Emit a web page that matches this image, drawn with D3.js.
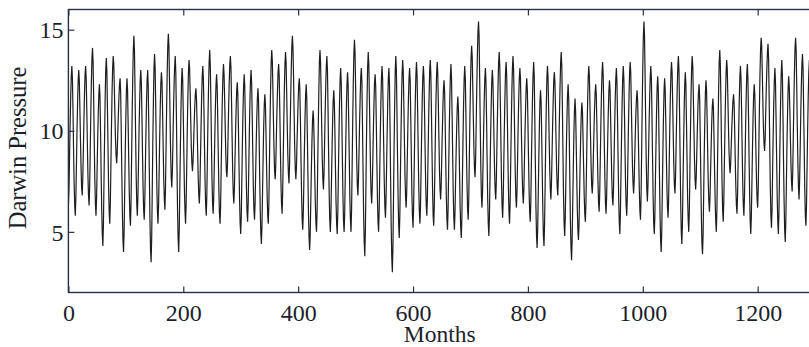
<!DOCTYPE html>
<html>
<head>
<meta charset="utf-8">
<script src="https://cdn.jsdelivr.net/npm/d3@7"></script>
<style>
  html, body { margin: 0; padding: 0; background: #ffffff; }
  svg { display: block; }
  text { font-family: "Liberation Serif", "Times New Roman", serif; fill: #1c1f2b; }
</style>
</head>
<body>
<script>
// Monthly Darwin sea-level pressure (mb - 1000), one row per year
const pressure = [
6.3,7.1,8.7,10.3,11.7,12.7,13.2,12.6,11.0,9.1,7.4,6.3,
5.8,6.7,8.3,10.0,11.4,12.5,13.0,12.5,11.1,9.6,8.2,7.2,
6.8,7.6,9.0,10.5,11.8,12.8,13.2,12.6,11.1,9.4,7.8,6.8,
6.3,7.2,9.0,10.8,12.4,13.6,14.1,13.4,11.6,9.5,7.6,6.4,
5.8,6.6,8.1,9.6,10.9,11.8,12.3,11.7,9.9,7.9,6.1,4.9,
4.3,5.4,7.6,9.7,11.6,13.0,13.6,12.9,11.1,9.1,7.2,6.0,
5.4,6.4,8.3,10.2,11.9,13.1,13.7,13.3,12.1,10.8,9.6,8.8,
8.4,8.9,9.9,10.8,11.7,12.3,12.6,11.9,10.0,7.9,5.9,4.6,
4.0,5.0,7.0,9.0,10.7,12.0,12.6,12.0,10.4,8.6,6.9,5.8,
5.3,6.4,8.6,10.8,12.6,14.0,14.7,14.0,12.0,9.8,7.8,6.4,
5.8,6.7,8.3,10.0,11.4,12.5,13.0,12.4,10.8,8.9,7.2,6.1,
5.6,6.5,8.2,9.9,11.4,12.5,13.0,12.2,10.1,7.7,5.6,4.1,
3.5,4.7,7.1,9.5,11.5,13.1,13.8,13.1,11.3,9.2,7.2,6.0,
5.4,6.3,8.0,9.8,11.3,12.4,12.9,12.4,10.9,9.2,7.6,6.6,
6.1,7.1,9.1,11.1,12.9,14.2,14.8,14.2,12.5,10.6,8.9,7.7,
7.2,8.0,9.5,11.0,12.3,13.2,13.7,12.9,10.8,8.4,6.1,4.7,
4.0,5.1,7.2,9.3,11.1,12.5,13.1,12.5,10.8,8.9,7.1,6.0,
5.4,6.4,8.2,10.1,11.7,12.9,13.5,13.1,11.9,10.5,9.2,8.4,
8.0,8.5,9.4,10.4,11.2,11.8,12.1,11.6,10.4,9.0,7.7,6.8,
6.4,7.2,8.8,10.3,11.7,12.7,13.2,12.6,11.0,9.1,7.4,6.3,
5.8,6.8,8.7,10.6,12.2,13.4,14.0,13.3,11.6,9.5,7.6,6.4,
5.9,6.7,8.3,9.9,11.3,12.3,12.8,12.2,10.6,8.7,7.0,5.9,
5.4,6.3,8.2,10.0,11.6,12.7,13.3,12.8,11.6,10.2,8.9,8.0,
7.7,8.4,9.8,11.2,12.4,13.3,13.7,13.1,11.5,9.7,8.0,6.9,
6.4,7.1,8.5,9.9,11.1,12.0,12.4,11.8,10.2,8.3,6.6,5.4,
4.9,5.8,7.7,9.5,11.1,12.2,12.8,12.2,10.6,8.8,7.1,6.0,
5.5,6.4,8.1,9.9,11.4,12.5,13.0,12.4,10.8,8.9,7.2,6.1,
5.6,6.4,7.9,9.4,10.7,11.6,12.1,11.5,9.8,7.8,6.1,4.9,
4.4,5.3,7.0,8.7,10.2,11.3,11.8,11.3,9.9,8.3,6.8,5.8,
5.4,6.4,8.4,10.4,12.1,13.4,14.0,13.5,12.1,10.5,9.0,8.0,
7.6,8.3,9.6,10.9,12.0,12.9,13.3,12.7,11.1,9.2,7.5,6.4,
5.9,6.9,8.7,10.5,12.1,13.3,13.9,13.4,11.9,10.3,8.8,7.9,
7.4,8.3,10.0,11.6,13.1,14.2,14.7,14.1,12.6,10.8,9.2,8.1,
7.6,8.2,9.4,10.5,11.5,12.3,12.6,12.0,10.4,8.5,6.8,5.6,
5.1,6.0,7.6,9.3,10.7,11.8,12.3,11.6,9.8,7.8,5.9,4.7,
4.1,4.9,6.5,8.1,9.5,10.5,11.0,10.5,9.2,7.7,6.3,5.4,
5.0,6.1,8.2,10.2,12.0,13.4,14.0,13.4,11.9,10.2,8.6,7.6,
7.1,7.9,9.4,10.9,12.2,13.2,13.7,13.0,11.1,8.9,6.9,5.6,
5.0,5.8,7.5,9.1,10.5,11.5,12.0,11.4,9.9,8.1,6.4,5.4,
4.9,5.9,7.8,9.7,11.3,12.5,13.1,12.4,10.7,8.6,6.7,5.5,
5.0,5.9,7.8,9.6,11.2,12.3,12.9,12.3,10.5,8.6,6.7,5.6,
5.0,6.1,8.3,10.5,12.4,13.8,14.5,13.9,12.2,10.2,8.5,7.3,
6.8,7.6,9.0,10.5,11.7,12.7,13.1,12.4,10.3,8.0,5.8,4.5,
3.8,5.0,7.3,9.7,11.7,13.2,13.9,13.3,11.7,9.8,8.0,6.9,
6.4,7.2,8.6,10.1,11.4,12.4,12.8,12.2,10.5,8.5,6.7,5.5,
5.0,6.0,7.9,9.8,11.4,12.6,13.2,12.6,11.0,9.1,7.4,6.2,
5.7,6.6,8.3,10.0,11.5,12.6,13.1,12.3,10.1,7.5,5.2,3.7,
3.0,4.3,6.7,9.2,11.3,13.0,13.7,13.0,11.0,8.7,6.7,5.3,
4.7,5.8,7.8,9.8,11.6,12.9,13.5,12.9,11.3,9.5,7.8,6.7,
6.2,7.0,8.6,10.2,11.6,12.6,13.1,12.5,10.7,8.8,6.9,5.8,
5.2,6.2,8.1,10.0,11.6,12.8,13.4,12.8,11.0,9.0,7.2,6.0,
5.4,6.3,8.1,9.9,11.5,12.7,13.2,12.6,11.0,9.1,7.4,6.3,
5.8,6.7,8.5,10.3,11.8,13.0,13.5,12.8,11.0,9.0,7.1,5.8,
5.3,6.3,8.1,10.0,11.6,12.8,13.4,12.9,11.4,9.7,8.1,7.1,
6.6,7.3,8.7,10.0,11.2,12.1,12.5,11.9,10.3,8.4,6.7,5.6,
5.1,6.1,8.0,9.9,11.5,12.7,13.3,12.6,10.8,8.8,6.9,5.7,
5.1,5.9,7.4,8.9,10.2,11.2,11.7,11.1,9.6,7.9,6.2,5.2,
4.7,5.7,7.7,9.6,11.3,12.6,13.2,12.6,10.9,9.0,7.3,6.1,
5.6,6.6,8.6,10.6,12.3,13.6,14.2,13.7,12.2,10.6,9.1,8.1,
7.7,8.6,10.4,12.2,13.7,14.9,15.4,14.7,12.6,10.3,8.2,6.8,
6.2,7.0,8.6,10.2,11.6,12.6,13.1,12.4,10.6,8.5,6.6,5.4,
4.8,5.8,7.7,9.6,11.2,12.4,13.0,12.5,11.1,9.5,8.0,7.0,
6.6,7.5,9.2,10.8,12.3,13.4,13.9,13.2,11.4,9.4,7.5,6.3,
5.7,6.6,8.4,10.2,11.7,12.9,13.4,12.8,11.0,9.0,7.2,6.0,
5.4,6.4,8.3,10.2,11.9,13.1,13.7,13.1,11.5,9.6,7.9,6.7,
6.2,7.0,8.6,10.2,11.6,12.6,13.1,12.6,11.1,9.4,7.9,6.9,
6.4,7.1,8.6,10.0,11.2,12.2,12.6,12.0,10.5,8.7,7.1,6.0,
5.5,6.4,8.3,10.1,11.7,12.8,13.4,12.7,10.6,8.3,6.2,4.8,
4.2,5.1,6.9,8.7,10.3,11.5,12.0,11.4,9.7,7.8,6.0,4.8,
4.3,5.4,7.4,9.5,11.2,12.6,13.2,12.7,11.2,9.6,8.1,7.1,
6.6,7.4,8.8,10.3,11.5,12.5,12.9,12.4,11.1,9.5,8.1,7.2,
6.8,7.7,9.3,10.9,12.3,13.4,13.9,13.2,11.2,8.9,6.8,5.4,
4.8,5.7,7.4,9.2,10.7,11.8,12.3,11.6,9.7,7.5,5.5,4.2,
3.6,4.6,6.4,8.2,9.8,11.0,11.6,11.0,9.5,7.8,6.1,5.1,
4.6,5.4,7.0,8.5,9.9,10.9,11.4,10.9,9.6,8.2,6.8,5.9,
5.5,6.4,8.2,10.0,11.5,12.7,13.2,12.7,11.3,9.7,8.3,7.3,
6.9,7.5,8.8,10.0,11.1,11.9,12.3,11.8,10.4,8.8,7.4,6.4,
6.0,6.9,8.6,10.3,11.8,12.9,13.4,12.8,11.2,9.3,7.6,6.4,
5.9,6.7,8.2,9.7,11.0,12.0,12.5,12.0,10.6,9.1,7.6,6.7,
6.3,7.1,8.7,10.2,11.6,12.6,13.1,12.4,10.6,8.6,6.7,5.5,
4.9,5.9,7.8,9.7,11.4,12.6,13.2,12.6,11.0,9.1,7.4,6.3,
5.8,6.7,8.5,10.2,11.7,12.9,13.4,12.9,11.4,9.8,8.3,7.4,
6.9,7.5,8.7,9.9,10.9,11.6,12.0,11.5,10.1,8.5,7.0,6.0,
5.6,6.8,9.0,11.3,13.2,14.7,15.4,14.7,12.7,10.5,8.5,7.1,
6.5,7.3,8.8,10.4,11.7,12.7,13.2,12.5,10.7,8.6,6.7,5.4,
4.9,5.8,7.6,9.4,11.0,12.2,12.7,12.0,10.1,7.9,5.9,4.6,
4.0,5.0,7.0,9.0,10.7,12.0,12.6,12.0,10.5,8.8,7.2,6.2,
5.7,6.6,8.4,10.2,11.7,12.9,13.4,12.9,11.4,9.8,8.3,7.3,
6.9,7.7,9.3,10.8,12.2,13.2,13.7,13.0,10.9,8.6,6.4,5.0,
4.4,5.4,7.4,9.3,11.0,12.3,12.9,12.3,10.5,8.6,6.7,5.6,
5.0,6.0,8.0,10.0,11.8,13.1,13.7,13.2,11.7,10.1,8.6,7.6,
7.1,7.7,8.9,10.1,11.2,11.9,12.3,11.6,9.8,7.7,5.7,4.4,
3.9,4.9,6.9,8.9,10.6,11.9,12.5,12.0,10.6,8.9,7.4,6.5,
6.0,6.7,8.0,9.2,10.4,11.2,11.6,11.1,9.6,8.0,6.5,5.5,
5.0,6.1,8.2,10.2,12.0,13.4,14.0,13.3,11.5,9.3,7.4,6.1,
5.5,6.5,8.3,10.1,11.7,12.9,13.5,13.1,11.8,10.4,9.1,8.3,
7.9,8.4,9.3,10.2,10.9,11.5,11.8,11.3,10.0,8.5,7.2,6.3,
5.9,6.8,8.5,10.1,11.6,12.7,13.2,12.6,11.0,9.1,7.4,6.3,
5.8,6.7,8.4,10.2,11.7,12.8,13.3,12.6,10.8,8.7,6.8,5.5,
4.9,5.8,7.5,9.2,10.7,11.8,12.3,11.8,10.5,8.9,7.5,6.6,
6.2,7.2,9.1,11.1,12.8,14.0,14.6,14.2,12.9,11.5,10.2,9.4,
9.0,9.6,10.9,12.1,13.1,13.9,14.3,13.6,11.6,9.3,7.2,5.8,
5.2,6.1,8.0,9.8,11.4,12.5,13.1,12.4,10.6,8.6,6.7,5.5,
4.9,5.9,7.9,9.9,11.6,12.9,13.5,12.8,10.8,8.5,6.5,5.1,
4.5,5.5,7.4,9.3,10.9,12.1,12.7,12.2,11.0,9.6,8.3,7.4,
7.0,7.9,9.7,11.4,12.9,14.1,14.6,14.0,12.2,10.2,8.4,7.2,
6.6,7.5,9.1,10.8,12.2,13.3,13.8,13.1,11.2,9.1,7.1,5.8,
5.3,6.3,8.2,10.1,11.7,12.9,13.5,12.9,11.3,9.4,7.6,6.5
];
const xTicks = [0, 200, 400, 600, 800, 1000, 1200];
const yTicks = [5, 10, 15];
const xLabel = "Months";
const yLabel = "Darwin Pressure";

const W = 809, H = 347;
const plot = { left: 68.4, top: 9.5, bottom: 292.5 };

const x = d3.scaleLinear().domain([0, 1300]).range([plot.left, plot.left + 1300 * 0.5744]);
const y = d3.scaleLinear().domain([2, 16]).range([plot.bottom, plot.top]);
const plotRight = x(1300);

const svg = d3.select("body").append("svg").attr("width", W).attr("height", H);

svg.append("defs").append("clipPath").attr("id", "clip")
  .append("rect")
  .attr("x", plot.left).attr("y", plot.top)
  .attr("width", plotRight - plot.left).attr("height", plot.bottom - plot.top);

// data line
const line = d3.line().x((d, i) => x(i)).y(d => y(d));
svg.append("path")
  .datum(pressure)
  .attr("clip-path", "url(#clip)")
  .attr("d", line)
  .attr("fill", "none")
  .attr("stroke", "#1e1e1e")
  .attr("stroke-width", 1.2)
  .attr("stroke-linejoin", "miter");

const frameColor = "#25304a";
const tickLen = 6;

// axes with inward ticks
const axBottom = d3.axisBottom(x).tickValues(xTicks).tickSize(-tickLen).tickPadding(12).tickFormat(d3.format("d"));
const axTop = d3.axisTop(x).tickValues(xTicks).tickSize(-tickLen).tickFormat("");
const axLeft = d3.axisLeft(y).tickValues(yTicks).tickSize(-tickLen).tickPadding(5).tickFormat(d3.format("d"));
const axRight = d3.axisRight(y).tickValues(yTicks).tickSize(-tickLen).tickFormat("");

function styleAxis(g) {
  g.select(".domain").remove();
  g.selectAll(".tick line").attr("stroke", frameColor).attr("stroke-width", 1.2);
  g.selectAll(".tick text")
    .attr("fill", "#1c1f2b")
    .style("font-family", '"Liberation Serif", "Times New Roman", serif')
    .style("font-size", "24px");
}

svg.append("g").attr("transform", `translate(0,${plot.bottom})`).call(axBottom).call(styleAxis)
  .selectAll(".tick text").attr("dy", "0.71em").attr("y", 11);
svg.append("g").attr("transform", `translate(0,${plot.top})`).call(axTop).call(styleAxis);
svg.append("g").attr("transform", `translate(${plot.left},0)`).call(axLeft).call(styleAxis)
  .selectAll(".tick text").attr("dy", "0.34em");
svg.append("g").attr("transform", `translate(${plotRight},0)`).call(axRight).call(styleAxis);

// frame
svg.append("rect")
  .attr("x", plot.left).attr("y", plot.top)
  .attr("width", plotRight - plot.left).attr("height", plot.bottom - plot.top)
  .attr("fill", "none").attr("stroke", frameColor).attr("stroke-width", 1.4);

// labels
svg.append("text")
  .attr("x", (plot.left + plotRight) / 2 - 2)
  .attr("y", 341.5)
  .attr("text-anchor", "middle")
  .style("font-size", "23.5px")
  .text(xLabel);

svg.append("text")
  .attr("transform", `translate(26,${(plot.top + plot.bottom) / 2 - 3}) rotate(-90)`)
  .attr("text-anchor", "middle")
  .style("font-size", "24.5px")
  .text(yLabel);
</script>
</body>
</html>
